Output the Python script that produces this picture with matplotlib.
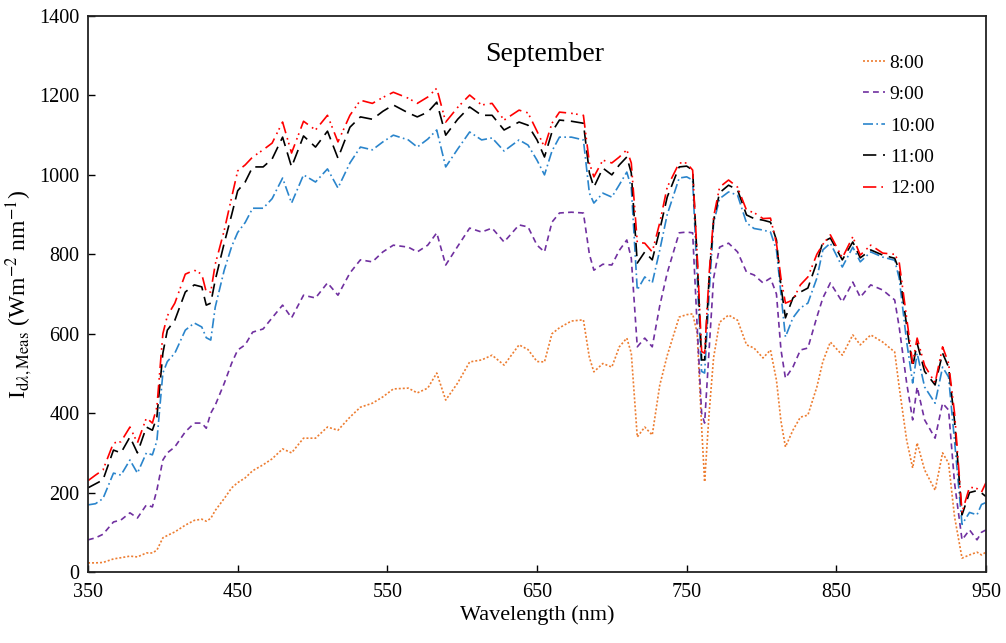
import matplotlib
matplotlib.use("Agg")
import matplotlib.pyplot as plt

plt.rcParams['font.family'] = ['Liberation Serif', 'DejaVu Serif']
plt.rcParams['mathtext.fontset'] = 'stix'

wavelength = [350, 355, 360, 367, 372, 378, 383, 389, 393, 396, 400, 403, 408, 415, 421, 426, 429, 432, 435, 441,
              446, 450, 455, 460, 467, 473, 480, 486, 494, 502, 510, 517, 525, 532, 540, 547, 554, 564, 570, 577,
              583, 589, 597, 605, 613, 620, 628, 638, 644, 650, 655, 660, 665, 673, 681, 685, 688, 694, 700, 705,
              710, 713, 717, 722, 727, 732, 737, 745, 750, 754, 757, 760, 762, 765, 768, 772, 778, 784, 790, 795,
              801, 806, 810, 813, 816, 821, 826, 831, 837, 841, 846, 854, 861, 866, 873, 881, 889, 892, 897, 901,
              904, 909, 916, 921, 925, 929, 934, 939, 944, 947, 950]

i_0800 = [23, 23, 24, 33, 36, 40, 38, 48, 48, 55, 86, 92, 101, 118, 130, 133, 128, 135, 155, 185,
          212, 225, 237, 255, 270, 285, 310, 300, 337, 337, 365, 357, 390, 415, 425, 441, 461, 463, 451, 463,
          501, 433, 476, 529, 534, 546, 521, 572, 560, 530, 529, 600, 615, 632, 635, 540, 504, 525, 516, 567,
          589, 551, 340, 365, 345, 470, 545, 642, 648, 650, 602, 365, 227, 400, 540, 629, 647, 634, 572, 564,
          539, 559, 483, 380, 315, 357, 390, 395, 466, 530, 579, 546, 597, 572, 597, 579, 554, 466, 332, 262,
          325, 257, 206, 300, 274, 139, 35, 43, 50, 43, 50]

i_0900 = [81, 86, 95, 126, 131, 149, 136, 169, 164, 206, 282, 300, 315, 353, 375, 375, 362, 400, 420, 475,
          526, 559, 572, 604, 612, 640, 672, 640, 697, 690, 728, 697, 753, 786, 781, 806, 823, 818, 806, 823,
          854, 773, 820, 866, 856, 866, 831, 874, 869, 823, 806, 881, 904, 906, 904, 800, 760, 775, 773, 810,
          836, 790, 567, 589, 567, 670, 753, 854, 856, 854, 620, 400, 375, 560, 740, 818, 828, 806, 755, 748,
          728, 740, 700, 560, 488, 516, 559, 564, 642, 690, 728, 680, 730, 692, 723, 710, 685, 617, 476, 383,
          466, 383, 337, 425, 408, 224, 81, 106, 81, 100, 106]

i_1000 = [169, 172, 185, 249, 244, 282, 249, 300, 295, 330, 501, 530, 551, 609, 627, 617, 590, 584, 667, 760,
          820, 855, 880, 916, 916, 940, 992, 929, 1000, 982, 1015, 967, 1030, 1070, 1063, 1083, 1100, 1088, 1070, 1090,
          1113, 1020, 1065, 1108, 1088, 1093, 1060, 1088, 1075, 1037, 1000, 1060, 1095, 1095, 1088, 954, 929, 954, 944, 975,
          1007, 969, 710, 743, 728, 810, 900, 992, 995, 987, 743, 505, 501, 700, 879, 940, 957, 949, 879, 865,
          861, 856, 811, 700, 592, 640, 665, 677, 740, 811, 828, 768, 818, 781, 806, 793, 785, 740, 580, 476,
          551, 466, 425, 516, 491, 330, 120, 150, 144, 170, 175]

i_1100 = [212, 222, 232, 307, 300, 340, 300, 365, 357, 390, 551, 609, 634, 705, 723, 718, 672, 677, 735, 828,
          900, 960, 982, 1020, 1020, 1040, 1095, 1020, 1098, 1070, 1110, 1042, 1120, 1146, 1140, 1160, 1176, 1156, 1146, 1158,
          1183, 1100, 1140, 1171, 1150, 1150, 1113, 1133, 1125, 1088, 1045, 1108, 1138, 1135, 1130, 1005, 969, 1017, 1000, 1025,
          1045, 1005, 778, 806, 786, 861, 944, 1020, 1022, 1012, 790, 534, 534, 740, 886, 955, 974, 962, 899, 890,
          886, 881, 836, 720, 640, 690, 705, 715, 780, 831, 841, 786, 831, 791, 811, 798, 790, 760, 620, 516,
          576, 505, 471, 551, 516, 380, 144, 200, 205, 199, 190]

i_1200 = [230, 244, 257, 325, 328, 365, 325, 388, 375, 415, 600, 645, 677, 750, 760, 750, 705, 705, 775, 860,
          944, 1010, 1025, 1045, 1063, 1080, 1133, 1055, 1135, 1113, 1150, 1083, 1150, 1188, 1180, 1195, 1208, 1193, 1180, 1196,
          1218, 1133, 1170, 1201, 1176, 1180, 1138, 1163, 1156, 1110, 1070, 1130, 1158, 1155, 1150, 1030, 995, 1037, 1030, 1045,
          1063, 1030, 830, 828, 806, 879, 969, 1030, 1030, 1012, 800, 555, 551, 750, 894, 969, 987, 969, 911, 905,
          890, 891, 828, 740, 677, 685, 723, 743, 800, 825, 849, 791, 844, 798, 823, 803, 800, 780, 640, 526,
          589, 520, 476, 567, 526, 400, 150, 214, 210, 201, 225]

labels = ['8:00', '9:00', '10:00', '11:00', '12:00']
x_ticks = [350, 450, 550, 650, 750, 850, 950]
y_ticks = [0, 200, 400, 600, 800, 1000, 1200, 1400]

series = [i_0800, i_0900, i_1000, i_1100, i_1200]
colors = ['#ED7D31', '#7030A0', '#2A85CC', '#000000', '#FF0000']
styles = [(0, (1.2, 1.2)), (0, (3.5, 2.5)), (0, (6, 2, 1, 2)), (0, (8, 4)), (0, (8, 3, 1, 2, 1, 3))]

fig = plt.figure(figsize=(10.06, 6.43), dpi=100)
ax = fig.add_axes([0.0875, 0.1104, 0.8926, 0.8647])

for s, lab, c, ls in zip(series, labels, colors, styles):
    ax.plot(wavelength, s, color=c, linestyle=ls, linewidth=1.2, label=lab)

ax.set_xlim(350, 950)
ax.set_ylim(0, 1400)
ax.set_xticks(x_ticks)
ax.set_yticks(y_ticks)
ax.tick_params(direction='in', labelsize=14.5, length=5, width=1)
ax.tick_params(axis='x', pad=8)
ax.tick_params(axis='y', pad=6)
for sp in ax.spines.values():
    sp.set_linewidth(1.3)
    sp.set_color('#222222')

ax.set_xlabel('Wavelength (nm)', fontsize=16, labelpad=2)
ax.set_ylabel(r'I$_{\mathrm{d}\lambda,\mathrm{Meas}}$ (Wm$^{-2}$ nm$^{-1}$)', fontsize=17, labelpad=4)
ax.text(0.509, 0.930, 'September', transform=ax.transAxes, ha='center', va='center', fontsize=20)

leg = ax.legend(loc='upper right', bbox_to_anchor=(0.962, 0.963), frameon=False, fontsize=14,
                handlelength=1.1, handletextpad=0.25, labelspacing=0.71)

fig.savefig('out.png', dpi=100)
